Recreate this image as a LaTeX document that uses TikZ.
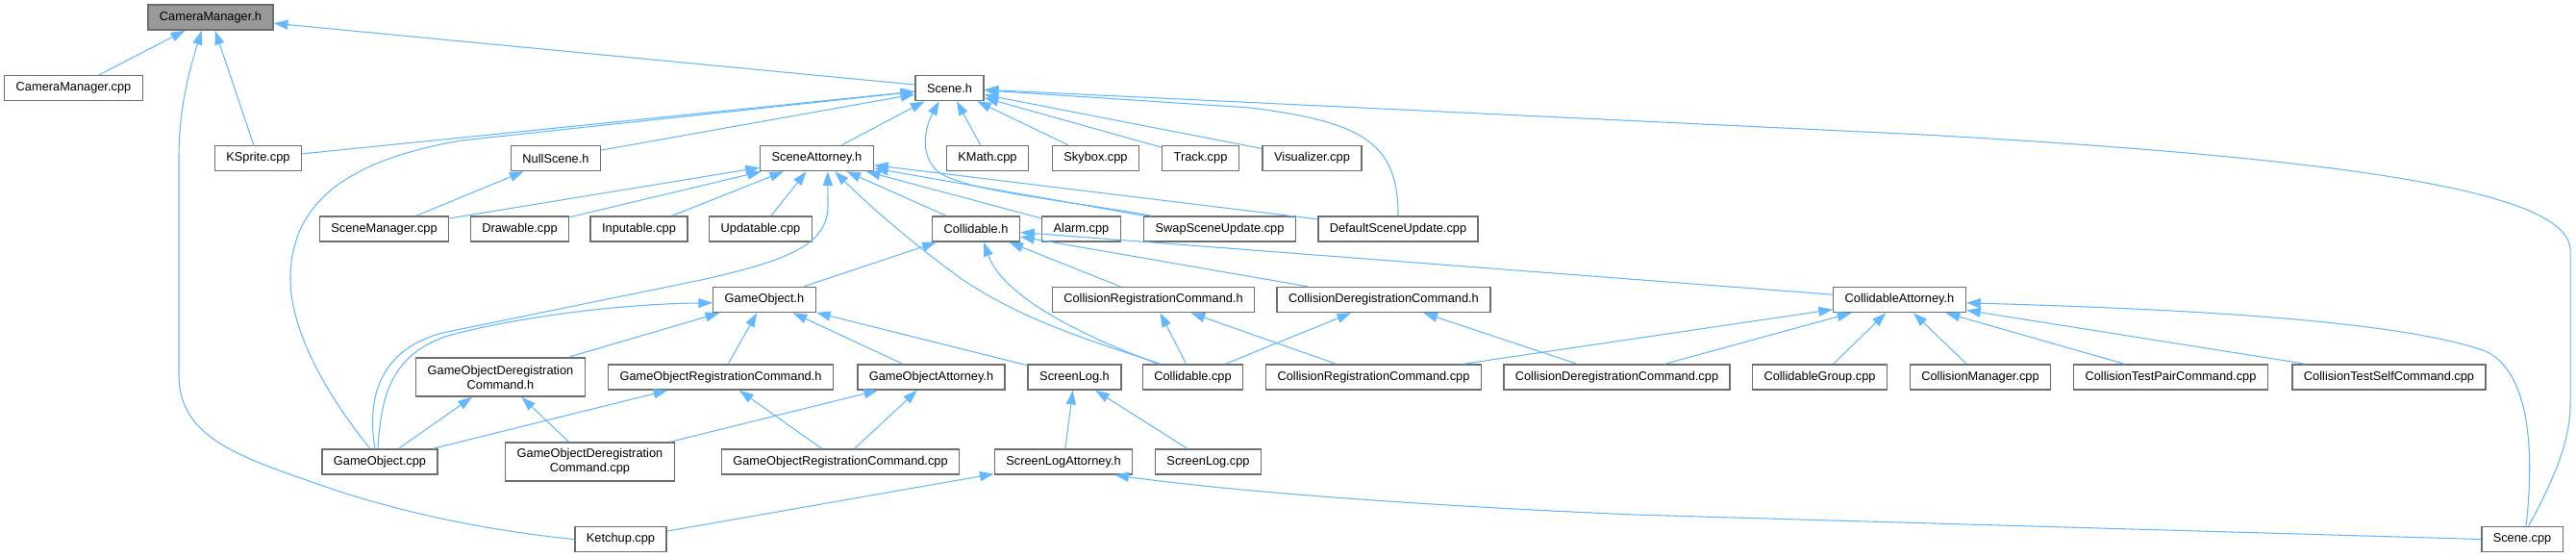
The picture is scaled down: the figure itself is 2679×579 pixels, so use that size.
\documentclass[tikz,border=0pt]{standalone}
\usepackage{xcolor}
\usepackage{fontspec}
\setmainfont{Liberation Sans}
\usetikzlibrary{arrows.meta}
\definecolor{edgeblue}{RGB}{99,184,255}
\definecolor{boxgray}{RGB}{110,110,110}
\definecolor{rootgray}{RGB}{153,153,153}

\begin{document}
\begin{tikzpicture}[
    x=0.75pt, y=-0.75pt,
    file/.style={rectangle, draw=boxgray, line width=1.1pt, fill=white, minimum height=19.5pt, inner xsep=9pt, inner ysep=3pt, align=center, font=\fontsize{9.6pt}{11.25pt}\selectfont},
    twoline/.style={minimum height=30pt},
    edge/.style={-{Triangle[length=11pt,width=7.5pt]}, edgeblue, line width=0.8pt}
]
\useasboundingbox (0,0) rectangle (2679,579);

% Root
\node[file, fill=rootgray] (camh) at (219,18) {CameraManager.h};

% Row 1
\node[file] (camcpp) at (76.5,91.5) {CameraManager.cpp};
\node[file] (sceneh) at (987.5,91.5) {Scene.h};

% Row 2
\node[file] (ksprite) at (268.5,164.5) {KSprite.cpp};
\node[file] (nullscene) at (578,164.5) {NullScene.h};
\node[file] (sceneatt) at (849.5,164.5) {SceneAttorney.h};
\node[file] (kmath) at (1027,164.5) {KMath.cpp};
\node[file] (skybox) at (1139.5,164.5) {Skybox.cpp};
\node[file] (track) at (1248.5,164.5) {Track.cpp};
\node[file] (visual) at (1364.5,164.5) {Visualizer.cpp};

% Row 3
\node[file] (scenemgr) at (399.5,238) {SceneManager.cpp};
\node[file] (drawable) at (540.5,238) {Drawable.cpp};
\node[file] (inputable) at (664.5,238) {Inputable.cpp};
\node[file] (updatable) at (791,238) {Updatable.cpp};
\node[file] (collh) at (1015,238) {Collidable.h};
\node[file] (alarm) at (1124.5,238) {Alarm.cpp};
\node[file] (swapupd) at (1268.5,238) {SwapSceneUpdate.cpp};
\node[file] (defupd) at (1454,238) {DefaultSceneUpdate.cpp};

% Row 4
\node[file] (goh) at (795,311.5) {GameObject.h};
\node[file] (crch) at (1199.5,311.5) {CollisionRegistrationCommand.h};
\node[file] (cdch) at (1439,311.5) {CollisionDeregistrationCommand.h};
\node[file] (catth) at (1975.5,311.5) {CollidableAttorney.h};

% Row 5
\node[file, twoline] (godch) at (520.5,392) {GameObjectDeregistration\\Command.h};
\node[file] (gorch) at (749.5,392) {GameObjectRegistrationCommand.h};
\node[file] (goatt) at (968.5,392) {GameObjectAttorney.h};
\node[file] (slh) at (1117.5,392) {ScreenLog.h};
\node[file] (collcpp) at (1240.5,392) {Collidable.cpp};
\node[file] (crccpp) at (1428.5,392) {CollisionRegistrationCommand.cpp};
\node[file] (cdccpp) at (1681.5,392) {CollisionDeregistrationCommand.cpp};
\node[file] (cgroup) at (1892.5,392) {CollidableGroup.cpp};
\node[file] (cmgr) at (2059.5,392) {CollisionManager.cpp};
\node[file] (ctpair) at (2257.5,392) {CollisionTestPairCommand.cpp};
\node[file] (ctself) at (2484.5,392) {CollisionTestSelfCommand.cpp};

% Row 6
\node[file] (gocpp) at (395,480) {GameObject.cpp};
\node[file, twoline] (godccpp) at (613.5,480) {GameObjectDeregistration\\Command.cpp};
\node[file] (gorccpp) at (874,480) {GameObjectRegistrationCommand.cpp};
\node[file] (slatt) at (1106,480) {ScreenLogAttorney.h};
\node[file] (slcpp) at (1256.5,480) {ScreenLog.cpp};

% Row 7
\node[file] (ketchup) at (645.5,560.5) {Ketchup.cpp};
\node[file] (scenecpp) at (2623,560.5) {Scene.cpp};

% CameraManager.h
\draw[edge] (camcpp) -- (camh);
\draw[edge] (sceneh) -- (camh);
\draw[edge] (ksprite) -- (camh);
\draw[edge] (ketchup.west) .. controls (520,553) and (420,535) .. (330,503)
    .. controls (250,475) and (186,455) .. (186,390) -- (186,165)
    .. controls (186,110) and (198,70) .. ([xshift=-7pt]camh.south);

% Scene.h
\draw[edge] (ksprite) -- (sceneh);
\draw[edge] (nullscene) -- (sceneh);
\draw[edge] (sceneatt) -- (sceneh);
\draw[edge] (kmath) -- (sceneh);
\draw[edge] (skybox) -- (sceneh);
\draw[edge] (track) -- (sceneh);
\draw[edge] (visual) -- (sceneh);
\draw[edge] ([xshift=-7.5pt]gocpp.north) .. controls (335,405) and (302,340) .. (302,290)
    .. controls (302,205) and (370,165) .. (480,146) -- (sceneh);
\draw[edge] ([xshift=-53pt]swapupd.north) .. controls (1100,207) and (1000,198) .. (975,178)
    .. controls (955,160) and (963,130) .. ([xshift=-8pt]sceneh.south);
\draw[edge] (defupd.north) .. controls (1454,150) and (1420,127) .. (1300,112) -- (sceneh);
\draw[edge] ([xshift=5pt]scenecpp.north) .. controls (2655,500) and (2673,460) .. (2673,420)
    -- (2673,260) .. controls (2673,200) and (2450,165) .. (2000,140) -- (sceneh);

% NullScene.h
\draw[edge] (scenemgr) -- (nullscene);

% SceneAttorney.h
\draw[edge] (scenemgr) -- (sceneatt);
\draw[edge] (drawable) -- (sceneatt);
\draw[edge] (inputable) -- (sceneatt);
\draw[edge] (updatable) -- (sceneatt);
\draw[edge] (collh) -- (sceneatt);
\draw[edge] (alarm) -- (sceneatt);
\draw[edge] (swapupd) -- (sceneatt);
\draw[edge] (defupd) -- (sceneatt);
\draw[edge] ([xshift=-3.75pt]gocpp.north) .. controls (382,420) and (390,365) .. (460,346)
    -- (700,297) .. controls (820,273) and (860,255) .. (861,215) -- ([xshift=8.5pt]sceneatt.south);
\draw[edge] ([xshift=-25pt]collcpp.north) .. controls (1120,350) and (1060,330) .. (1000,290)
    .. controls (945,250) and (900,210) .. ([xshift=14pt]sceneatt.south);

% Collidable.h
\draw[edge] (goh) -- (collh);
\draw[edge] ([xshift=-27pt]collcpp.north) .. controls (1100,340) and (1040,300) .. ([xshift=6pt]collh.south);
\draw[edge] (crch) -- (collh);
\draw[edge] (cdch) -- (collh);
\draw[edge] (catth) -- (collh);

% GameObject.h
\draw[edge] ([xshift=-1.5pt]gocpp.north) .. controls (396,415) and (405,365) .. (473,347)
    .. controls (540,330) and (640,316) .. ([yshift=-2.5pt]goh.west);
\draw[edge] (godch) -- (goh);
\draw[edge] (gorch) -- (goh);
\draw[edge] (goatt) -- (goh);
\draw[edge] (slh) -- (goh);

% Collision commands
\draw[edge] (collcpp) -- (crch);
\draw[edge] (crccpp) -- (crch);
\draw[edge] (collcpp) -- (cdch);
\draw[edge] (cdccpp) -- (cdch);

% CollidableAttorney.h
\draw[edge] (crccpp) -- (catth);
\draw[edge] (cdccpp) -- (catth);
\draw[edge] (cgroup) -- (catth);
\draw[edge] (cmgr) -- (catth);
\draw[edge] (ctpair) -- (catth);
\draw[edge] (ctself) -- (catth);
\draw[edge] ([xshift=3pt]scenecpp.north) .. controls (2637,460) and (2628,385) .. (2585,365)
    .. controls (2500,335) and (2300,322) .. ([yshift=-2.5pt]catth.east);

% GameObject commands
\draw[edge] (gocpp) -- (godch);
\draw[edge] (godccpp) -- (godch);
\draw[edge] (gocpp) -- (gorch);
\draw[edge] (gorccpp) -- (gorch);
\draw[edge] (godccpp) -- (goatt);
\draw[edge] (gorccpp) -- (goatt);

% ScreenLog
\draw[edge] (slatt) -- (slh);
\draw[edge] (slcpp) -- (slh);
\draw[edge] (ketchup) -- (slatt);
\draw[edge] (scenecpp.west) -- (1700,535) .. controls (1400,522) and (1240,505) .. ([xshift=40pt]slatt.south);

\end{tikzpicture}
\end{document}
